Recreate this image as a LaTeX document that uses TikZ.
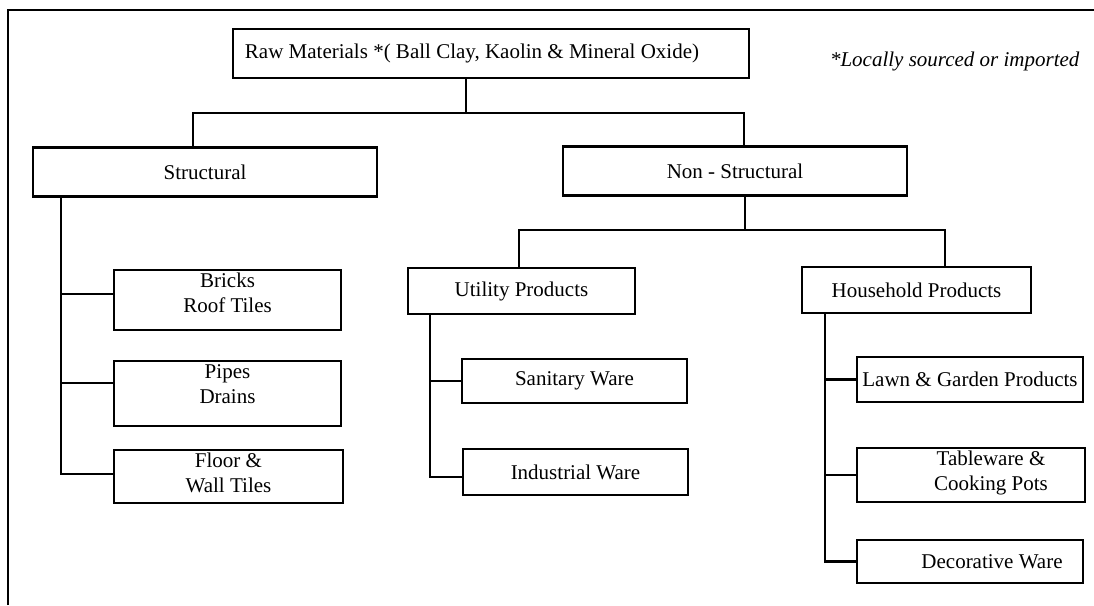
\documentclass[tikz,border=0pt]{standalone}
\usepackage{fontspec}
\setmainfont{Liberation Serif}
\newcommand\liftbox[2]{\raisebox{#1}[\height][\depth]{#2}}
\newcommand\twolines[1]{\begin{tabular}{@{}c@{}}#1\end{tabular}}
\begin{document}
\begin{tikzpicture}[x=1pt,y=-1pt,
  every node/.style={font=\fontsize{21}{25}\selectfont},
  boxnode/.style={draw, line width=2.4pt, rectangle, inner sep=0pt, align=center},
  link/.style={line width=2.1pt},
  frameline/.style={line width=2.6pt}]
\useasboundingbox (0,0) rectangle (1094,605);

% frame
\coordinate (frBL) at (8,605);
\coordinate (frTL) at (8,10);
\coordinate (frTR) at (1094,10);
\draw[frameline] (frBL) -- (frTL) -- (frTR);

% nodes
\node[boxnode, minimum width=516, minimum height=49] (raw) at (491,53.5)
  {Raw Materials *( Ball Clay, Kaolin \& Mineral Oxide)\hspace*{38pt}};
\node[anchor=base east] (note) at (1083,66) {\itshape *Locally sourced or imported};

\node[boxnode, minimum width=344, minimum height=49] (struct) at (205,172) {Structural};
\node[boxnode, minimum width=344, minimum height=49] (nonstruct) at (735,171) {Non - Structural};

\node[boxnode, minimum width=227, minimum height=60] (bricks) at (227.5,300)
  {\liftbox{5.5pt}{\twolines{Bricks\\Roof Tiles}}};
\node[boxnode, minimum width=227, minimum height=65] (pipes) at (227.5,393.5)
  {\liftbox{7.5pt}{\twolines{Pipes\\Drains}}};
\node[boxnode, minimum width=229, minimum height=53] (floor) at (228.5,476.5)
  {\liftbox{1.5pt}{\twolines{Floor \&\\Wall Tiles}}};

\node[boxnode, minimum width=227, minimum height=46] (util) at (521.5,291) {Utility Products};
\node[boxnode, minimum width=225, minimum height=44] (sanit) at (574.5,381) {Sanitary Ware};
\node[boxnode, minimum width=225, minimum height=46] (indus) at (575.5,472) {Industrial Ware};

\node[boxnode, minimum width=229, minimum height=46] (house) at (916.5,290) {Household Products};
\node[boxnode, minimum width=226, minimum height=45] (lawn) at (970,379.5) {Lawn \& Garden Products};
\node[boxnode, minimum width=228, minimum height=54] (tablew) at (971,475)
  {\hspace*{40pt}\liftbox{2.5pt}{\twolines{Tableware \&\\Cooking Pots}}};
\node[boxnode, minimum width=226, minimum height=43] (deco) at (970,561.5)
  {\hspace*{44pt}Decorative Ware};

% top bus
\coordinate (busL) at (193,113);
\coordinate (busM) at (466,113);
\coordinate (busR) at (744,113);
\draw[link] (raw.south -| busM) -- (busM);
\draw[link] (struct.north -| busL) -- (busL) -- (busR) -- (nonstruct.north -| busR);

% non-structural bus
\coordinate (nbL) at (519,230);
\coordinate (nbM) at (745,230);
\coordinate (nbR) at (945,230);
\draw[link] (nonstruct.south -| nbM) -- (nbM);
\draw[link] (util.north -| nbL) -- (nbL) -- (nbR) -- (house.north -| nbR);

% structural spine
\coordinate (sS) at (61,0);
\draw[link] (struct.south -| sS) |- ([yshift=2.5pt]floor.west);
\draw[link] ([yshift=6pt]bricks.west) -- +(-53,0);
\draw[link] ([yshift=10.5pt]pipes.west) -- +(-53,0);

% utility spine
\coordinate (uS) at (430,0);
\draw[link] (util.south -| uS) |- ([yshift=-5pt]indus.west);
\draw[link] (sanit.west) -- (sanit.west -| uS);

% household spine
\coordinate (hS) at (825,0);
\draw[link] (house.south -| hS) |- (deco.west);
\draw[link] (lawn.west) -- (lawn.west -| hS);
\draw[link] (tablew.west) -- (tablew.west -| hS);
\end{tikzpicture}
\end{document}
